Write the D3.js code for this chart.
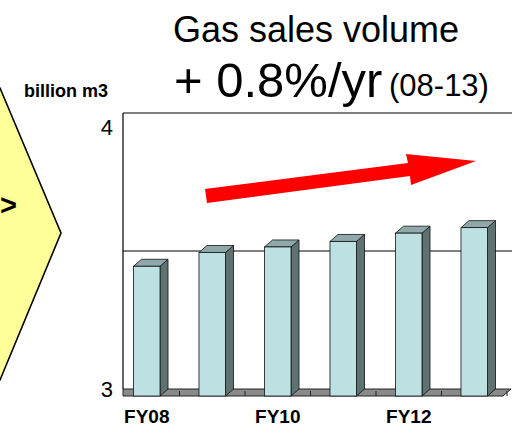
<!DOCTYPE html>
<html><head><meta charset="utf-8">
<script src="https://cdn.jsdelivr.net/npm/d3@7/dist/d3.min.js"></script>
<style>html,body{margin:0;padding:0;background:#fff;overflow:hidden}svg{display:block}</style>
</head><body>
<svg id="c" width="512" height="426"></svg>
<script>
const categories = ["FY08","FY09","FY10","FY11","FY12","FY13","FY14"];
const values = [3.47, 3.52, 3.54, 3.56, 3.59, 3.61, null];
const tickLabels = ["FY08","","FY10","","FY12","",""];
const yTicks = [3, 4];
const gridValues = [3.5];

const svg = d3.select("#c");
const F = "'Liberation Sans', Arial, sans-serif";
const dx = 8, dy = 7;            // depth offset
const floorFront = 396;

// back-plane scales
const x = d3.scaleBand().domain(categories).range([122, 122 + 65.5*7])
  .paddingInner(0.595).paddingOuter(0.2977);
const y = d3.scaleLinear().domain([3, 4]).range([389, 113]);
const xF = c => x(c) - dx;
const yF = v => y(v) + dy;
const bw = x.bandwidth();

// yellow hexagon on the left
svg.append("polygon")
  .attr("points", [[-60,88],[0,88],[61,233],[0,380],[-60,380]].map(p=>p.join(",")).join(" "))
  .attr("fill", "#ffff99").attr("stroke", "#000").attr("stroke-width", 1.6);
svg.append("text").attr("x", 17).attr("y", 215).attr("text-anchor","end")
  .attr("font-family", F).attr("font-weight","bold").attr("font-size", 29).text(">");

// titles
svg.append("text").attr("x", 316).attr("y", 42).attr("text-anchor","middle")
  .attr("font-family", F).attr("font-size", 36).text("Gas sales volume");
svg.append("text").attr("x", 174).attr("y", 97).attr("text-anchor","start")
  .attr("font-family", F).attr("font-size", 49).text("+ 0.8%/yr");
svg.append("text").attr("x", 389).attr("y", 96).attr("text-anchor","start")
  .attr("font-family", F).attr("font-size", 31).text("(08-13)");

svg.append("text").attr("x", 66).attr("y", 97).attr("text-anchor","middle")
  .attr("font-family", F).attr("font-weight","bold").attr("font-size", 18).text("billion m3");

// back wall lines
const right = 512;
svg.append("line").attr("x1", 123).attr("x2", right).attr("y1", y(4)).attr("y2", y(4))
  .attr("stroke", "#000").attr("stroke-width", 1.2);
svg.selectAll(".grid").data(gridValues).join("line")
  .attr("x1", 123).attr("x2", right).attr("y1", d=>y(d)).attr("y2", d=>y(d))
  .attr("stroke", "#000").attr("stroke-width", 1);
svg.append("line").attr("x1", 123).attr("x2", 123).attr("y1", y(4)).attr("y2", y(3))
  .attr("stroke", "#000").attr("stroke-width", 1.2);

// y tick labels
svg.selectAll(".yl").data(yTicks).join("text")
  .attr("x", 113).attr("y", d => yF(d) + (d===4 ? 15 : 1)).attr("text-anchor","end")
  .attr("font-family", F).attr("font-size", 22).text(d=>d);

// floor
const fx0 = 123, fxBack1 = 511, fxFront1 = fxBack1 - dx;
svg.append("polygon")
  .attr("points", [[fx0,y(3)],[fxBack1,y(3)],[fxFront1,floorFront],[fx0,floorFront]].map(p=>p.join(",")).join(" "))
  .attr("fill", "#8a8a8a").attr("stroke", "#222").attr("stroke-width", 1);
svg.selectAll(".ft").data(categories.slice(1)).join("line")
  .attr("x1", c => xF(c) - (x.step()-bw)/2).attr("x2", c => xF(c) - (x.step()-bw)/2)
  .attr("y1", floorFront - 5).attr("y2", floorFront)
  .attr("stroke", "#222").attr("stroke-width", 1);

// bars
const data = categories.map((c,i)=>({c, v: values[i]})).filter(d => d.v != null);
const g = svg.append("g");
const bars = g.selectAll("g").data(data).join("g");
bars.append("polygon") // side
  .attr("points", d => { const x0 = xF(d.c)+bw, t = yF(d.v);
    return [[x0,t],[x0+dx,t-dy],[x0+dx,floorFront-dy],[x0,floorFront]].map(p=>p.join(",")).join(" "); })
  .attr("fill", "#5f7272").attr("stroke", "#111").attr("stroke-width", 0.8);
bars.append("polygon") // top
  .attr("points", d => { const x0 = xF(d.c), t = yF(d.v);
    return [[x0,t],[x0+dx,t-dy],[x0+bw+dx,t-dy],[x0+bw,t]].map(p=>p.join(",")).join(" "); })
  .attr("fill", "#8fa9aa").attr("stroke", "#111").attr("stroke-width", 0.8);
bars.append("rect") // front
  .attr("x", d => xF(d.c)).attr("y", d => yF(d.v)).attr("width", bw)
  .attr("height", d => floorFront - yF(d.v))
  .attr("fill", "#bde0e3").attr("stroke", "#111").attr("stroke-width", 0.8);

// x labels
svg.selectAll(".xl").data(categories.map((c,i)=>({c, t: tickLabels[i]}))).join("text")
  .attr("x", d => xF(d.c) + bw/2).attr("y", 423).attr("text-anchor","middle")
  .attr("font-family", F).attr("font-weight","bold").attr("font-size", 19).text(d=>d.t);

// red trend arrow (annotation)
svg.append("polygon")
  .attr("points", [[205,189],[408,163],[406,154],[476,161],[411,185],[410,176],[207,203]].map(p=>p.join(",")).join(" "))
  .attr("fill", "#ff0000");
</script>
</body></html>
